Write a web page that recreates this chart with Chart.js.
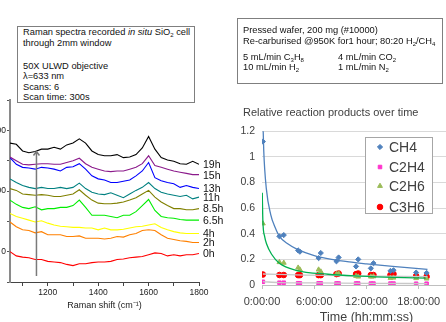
<!DOCTYPE html>
<html>
<head>
<meta charset="utf-8">
<script src="https://cdn.jsdelivr.net/npm/chart.js@4.4.1/dist/chart.umd.min.js"></script>
<style>
  html, body { margin: 0; padding: 0; width: 446px; height: 322px; overflow: hidden; background: #fff; }
  body { position: relative; font-family: "Liberation Sans", Arial, sans-serif; }
  #pageTitle { position: absolute; left: 0; top: -21px; width: 446px; text-align: center;
    font: bold 20px/20px "Liberation Sans", Arial, sans-serif; white-space: nowrap; color: #000; }
  .note { position: absolute; box-sizing: border-box; border: 1px solid #7f7f7f; background: #fff;
    font: 9.3px/10.5px "Liberation Sans", Arial, sans-serif; color: #111; padding-left: 5px; }
  .note p { margin: 0; white-space: nowrap; }
  .note sub { font-size: 6px; line-height: 0; vertical-align: -2px; }
  .note .col { display: inline-block; width: 95px; }
  #ramanNote { left: 17px; top: 26px; width: 178px; height: 77px; }
  #ramanNote .gap { margin-top: 12.5px; }
  #wNote { left: 237px; top: 18px; width: 206px; height: 66px; padding-top: 6px; }
  #wNote .gap { margin-top: 7px; }
  #wNote .tight { line-height: 9.5px; }
  #prodTitle { position: absolute; left: 243px; top: 106px; font: 11px "Liberation Sans", Arial, sans-serif;
    color: #404040; white-space: nowrap; }
  #raman { position: absolute; left: -30px; top: 90px; }
  #products { position: absolute; left: 230px; top: 118px; }
</style>
</head>
<body>
<div id="pageTitle">In-situ Raman study of carbon deposition</div>

<canvas id="raman" width="262" height="232"></canvas>
<canvas id="products" width="246" height="210"></canvas>

<div class="note" id="ramanNote">
  <p>Raman spectra recorded <i>in situ</i> SiO<sub>2</sub> cell</p>
  <p>through 2mm window</p>
  <p class="gap">50X ULWD objective</p>
  <p>λ=633 nm</p>
  <p>Scans: 6</p>
  <p>Scan time: 300s</p>
</div>

<div class="note" id="wNote">
  <p>Pressed wafer, 200 mg (#10000)</p>
  <p>Re-carburised @950K for1 hour; 80:20 H<sub>2</sub>/CH<sub>4</sub></p>
  <p class="gap tight"><span class="col">5 mL/min C<sub>3</sub>H<sub>8</sub></span>4 mL/min CO<sub>2</sub></p>
  <p class="tight"><span class="col">10 mL/min H<sub>2</sub></span>1 mL/min N<sub>2</sub></p>
</div>

<div id="prodTitle">Relative reaction products over time</div>

<script>
// ── Raman spectra (offset intensities) ─────────────
const ramanShift = [1050, 1075, 1100, 1125, 1150, 1175, 1200, 1225, 1250, 1275, 1300, 1325, 1350, 1375, 1400,
  1425, 1450, 1475, 1500, 1525, 1550, 1575, 1600, 1625, 1650, 1675, 1700, 1725, 1750, 1775, 1800];
const ramanTicks = [1100, 1200, 1300, 1400, 1500, 1600, 1700, 1800];

const spec19h = [179, 177, 166, 163, 165, 169, 169, 172, 169, 176, 179, 186, 179, 166, 160, 158, 158, 160, 155, 156,
  160, 171, 190, 169, 155, 151, 149, 145, 144, 149, 144];
const spec15h = [156, 150, 144, 143, 144, 145, 145, 144, 144, 147, 150, 154, 145, 139, 136, 133, 132, 133, 133, 136,
  139, 145, 158, 142, 139, 136, 133, 131, 129, 127, 127];
const spec13h = [155, 144, 139, 138, 136, 139, 138, 136, 133, 139, 140, 145, 136, 125, 120, 118, 114, 114, 116, 118,
  125, 133, 147, 122, 117, 114, 112, 106, 109, 106, 104];
const spec11h = [120, 114, 109, 106, 104, 106, 104, 104, 106, 104, 106, 113, 104, 98, 95, 94, 97, 93, 89, 95,
  101, 106, 114, 104, 98, 95, 93, 91, 93, 87, 90];
const spec8h5 = [104, 101, 95, 94, 93, 94, 93, 91, 91, 93, 95, 102, 93, 85, 80, 79, 79, 80, 82, 85,
  89, 95, 101, 90, 82, 76, 71, 71, 69, 69, 71];
const spec6h5 = [85, 78, 73, 71, 74, 69, 71, 71, 73, 73, 76, 85, 73, 60, 60, 60, 58, 56, 60, 60,
  66, 76, 86, 68, 58, 56, 55, 53, 52, 52, 52];
const spec4h = [63, 58, 55, 52, 49, 51, 47, 44, 42, 41, 40, 40, 39, 39, 36, 39, 36, 36, 37, 39,
  41, 42, 44, 46, 40, 36, 33, 31, 30, 30, 30];
const spec2h = [49, 41, 36, 35, 31, 33, 28, 28, 28, 25, 25, 26, 22, 22, 22, 21, 22, 25, 24, 28,
  30, 35, 36, 35, 28, 22, 20, 18, 17, 15, 15];
const spec0h = [0, -7, -9, -10, -13, -13, -16, -17, -18, -21, -23, -20, -20, -18, -17, -17, -16, -13, -12, -10,
  -9, -8, -5, -2, -3, -7, -5, -7, -5, -5, -3];

const spectrumLabels = ["19h", "15h", "13h", "11h", "8.5h", "6.5h", "4h", "2h", "0h"];
const spectrumColors = ["#000000", "#8b1a8b", "#0000ff", "#008080", "#808000", "#00ee00", "#ffff00", "#ff8000", "#ff0000"];
const spectra = [spec19h, spec15h, spec13h, spec11h, spec8h5, spec6h5, spec4h, spec2h, spec0h];

// arrow (time direction) in data units
const arrowShift = 1155;
const arrowFrom = -40;
const arrowTo = 165;

// ── Reaction products ───────────────────────────
const sampleHours = [0.1, 2.0, 2.5, 4.15, 4.35, 6.5, 6.75, 8.55, 8.8, 10.8, 11.05, 12.5, 12.8, 14.75, 15.1, 17.7, 18.9];
const ch4  = [1.12, 0.38, 0.39, 0.27, 0.26, 0.21, 0.25, 0.185, 0.215, 0.145, 0.2, 0.13, 0.17, 0.11, 0.115, 0.097, 0.094];
const c2h4 = [0.025, 0.018, 0.018, 0.014, 0.013, 0.013, 0.013, 0.012, 0.012, 0.012, 0.012, 0.011, 0.011, 0.011, 0.011, 0.01, 0.01];
const c2h6 = [0.48, 0.178, 0.173, 0.135, 0.12, 0.12, 0.105, 0.085, 0.09, 0.07, 0.065, 0.065, 0.067, 0.055, 0.057, 0.053, 0.05];
const c3h6 = [0.082, 0.078, 0.078, 0.077, 0.077, 0.077, 0.077, 0.085, 0.09, 0.085, 0.09, 0.078, 0.078, 0.078, 0.085, 0.07, 0.065];

// trend curves
const ch4TrendT  = [0.1, 0.2, 0.5, 1, 1.5, 2, 3, 4, 6, 8, 10, 12, 15, 19];
const ch4TrendV  = [1.3, 1.05, 0.75, 0.55, 0.45, 0.38, 0.32, 0.28, 0.23, 0.2, 0.18, 0.165, 0.145, 0.122];
const c2h6TrendT = [0.03, 0.1, 0.3, 0.53, 1.1, 2, 3.9, 7.6, 11.3, 15.1, 18.8];
const c2h6TrendV = [0.72, 0.5, 0.38, 0.32, 0.24, 0.17, 0.115, 0.084, 0.069, 0.059, 0.053];
const c3h6TrendT = [0.1, 5, 10, 19];
const c3h6TrendV = [0.086, 0.077, 0.072, 0.066];
const c2h4TrendT = [0.1, 2, 6, 12, 19];
const c2h4TrendV = [0.026, 0.019, 0.016, 0.013, 0.011];

const timeTicks = [0, 6, 12, 18];
const productNames = ["CH4", "C2H4", "C2H6", "C3H6"];
const productColors = ["#4f81bd", "#ff33cc", "#9bbb59", "#ff0000"];
const productStyles = ["rectRot", "rect", "triangle", "circle"];
const productSizes = [2.6, 2.5, 2.8, 2.8];

const NARROW = "'Liberation Sans Narrow', 'Liberation Sans', Arial, sans-serif";
const SANS = "'Liberation Sans', Arial, sans-serif";

// ── plugins ──────────────────────────────────────
const spectrumLabelPlugin = {
  id: "spectrumLabels",
  afterDatasetsDraw(chart) {
    const { ctx, chartArea } = chart;
    ctx.save();
    ctx.font = "10.5px " + SANS;
    ctx.fillStyle = "#111";
    ctx.textBaseline = "middle";
    chart.data.datasets.forEach((ds, i) => {
      const pts = chart.getDatasetMeta(i).data;
      const last = pts[pts.length - 1];
      ctx.fillText(ds.label, chartArea.right + 4, last.y + 1);
    });
    ctx.restore();
  },
};

const arrowPlugin = {
  id: "timeArrow",
  afterDatasetsDraw(chart) {
    const { ctx, scales } = chart;
    const x = scales.x.getPixelForValue(arrowShift);
    const y0 = scales.y.getPixelForValue(arrowFrom);
    const y1 = scales.y.getPixelForValue(arrowTo);
    ctx.save();
    ctx.strokeStyle = "#7a7a7a";
    ctx.lineWidth = 1.5;
    ctx.beginPath();
    ctx.moveTo(x, y0);
    ctx.lineTo(x, y1);
    ctx.moveTo(x - 3, y1 + 4);
    ctx.lineTo(x, y1);
    ctx.lineTo(x + 3, y1 + 4);
    ctx.stroke();
    ctx.restore();
  },
};

const productLegendPlugin = {
  id: "productLegend",
  afterDraw(chart) {
    const ctx = chart.ctx;
    const box = { x: 135, y: 19, w: 67, h: 76 };
    const rows = [10, 30, 49, 70];
    ctx.save();
    ctx.fillStyle = "#fff";
    ctx.fillRect(box.x, box.y, box.w, box.h);
    ctx.strokeStyle = "#a6a6a6";
    ctx.lineWidth = 1;
    ctx.strokeRect(box.x + 0.5, box.y + 0.5, box.w, box.h);
    ctx.font = "14px " + SANS;
    ctx.textBaseline = "middle";
    productNames.forEach((name, i) => {
      ctx.fillStyle = productColors[i];
      ctx.strokeStyle = productColors[i];
      Chart.helpers.drawPoint(ctx, { pointStyle: productStyles[i], radius: productSizes[i], borderWidth: 1 },
        150, box.y + rows[i]);
      ctx.fillStyle = "#404040";
      ctx.fillText(name, 159, box.y + rows[i] + 1);
    });
    ctx.restore();
  },
};

// ── Raman chart ──────────────────────────────────
new Chart(document.getElementById("raman"), {
  type: "line",
  data: {
    datasets: spectra.map((s, i) => ({
      label: spectrumLabels[i],
      data: ramanShift.map((x, j) => ({ x, y: s[j] })),
      borderColor: spectrumColors[i],
      borderWidth: 1.1,
      pointRadius: 0,
      tension: 0,
      fill: false,
    })),
  },
  options: {
    responsive: false,
    animation: false,
    devicePixelRatio: 1,
    layout: { padding: { top: 10, right: 33, left: 0, bottom: 0 } },
    plugins: { legend: { display: false }, tooltip: { enabled: false } },
    scales: {
      x: {
        type: "linear",
        min: 1050,
        max: 1800,
        afterBuildTicks: (s) => { s.ticks = ramanTicks.map((v) => ({ value: v })); },
        afterFit: (s) => { s.height = 40; },
        ticks: {
          autoSkip: false, maxRotation: 0, padding: 2, color: "#222",
          font: { family: NARROW, size: 8.5 },
          callback: (v) => (v % 200 === 0 ? String(v) : ""),
        },
        grid: { drawOnChartArea: false, tickLength: 4, color: "#444" },
        border: { color: "#444", width: 1 },
        title: {
          display: true, text: "Raman shift (cm⁻¹)", color: "#222",
          font: { family: NARROW, size: 9 }, padding: { top: 0, bottom: 11 },
        },
      },
      y: {
        min: -50,
        max: 250,
        afterFit: (s) => { s.width = 40; },
        ticks: {
          stepSize: 50, padding: 1, color: "#222",
          font: { family: NARROW, size: 8.5 },
          callback: (v) => (v % 100 === 0 ? String(v) : ""),
        },
        grid: { drawOnChartArea: false, tickLength: 3, color: "#555" },
        border: { color: "#8a8a8a", width: 2 },
      },
    },
  },
  plugins: [spectrumLabelPlugin, arrowPlugin],
});

// ── Products chart ───────────────────────────────
const pointSets = [ch4, c2h4, c2h6, c3h6].map((vals, i) => ({
  label: productNames[i],
  data: sampleHours.map((t, j) => ({ x: t, y: vals[j] })),
  pointStyle: productStyles[i],
  pointRadius: productSizes[i],
  backgroundColor: productColors[i],
  borderColor: productColors[i],
  borderWidth: 1,
  showLine: false,
}));

const trendSets = [
  { t: ch4TrendT, v: ch4TrendV, c: "#4f81bd" },
  { t: c2h6TrendT, v: c2h6TrendV, c: "#00b050" },
  { t: c3h6TrendT, v: c3h6TrendV, c: "#c8c8c8" },
  { t: c2h4TrendT, v: c2h4TrendV, c: "#c8c8c8" },
].map((tr) => ({
  data: tr.t.map((t, j) => ({ x: t, y: tr.v[j] })),
  showLine: true,
  borderColor: tr.c,
  borderWidth: 1.3,
  pointRadius: 0,
  cubicInterpolationMode: "monotone",
}));

new Chart(document.getElementById("products"), {
  type: "scatter",
  data: { datasets: [...trendSets, ...pointSets] },
  options: {
    responsive: false,
    animation: false,
    devicePixelRatio: 1,
    layout: { padding: { top: 10, right: 0, left: 0, bottom: 0 } },
    plugins: { legend: { display: false }, tooltip: { enabled: false } },
    scales: {
      x: {
        type: "linear",
        min: 0,
        max: 24,
        afterBuildTicks: (s) => { s.ticks = timeTicks.map((v) => ({ value: v })); },
        afterFit: (s) => { s.height = 43; },
        ticks: {
          autoSkip: false, maxRotation: 0, padding: 6, color: "#404040",
          font: { family: SANS, size: 11 },
          callback: (v) => v + ":00:00",
        },
        grid: { drawOnChartArea: false, tickLength: 4, color: "#bfbfbf" },
        border: { color: "#bfbfbf", width: 1 },
        title: {
          display: true, text: "Time (hh:mm:ss)", color: "#404040",
          font: { family: SANS, size: 12.5 }, padding: { top: 0, bottom: 3 },
        },
      },
      y: {
        min: 0,
        max: 1.2,
        afterFit: (s) => { s.width = 32; },
        ticks: {
          stepSize: 0.2, padding: 7, color: "#404040",
          font: { family: SANS, size: 10.5 },
          callback: (v) => String(Math.round(v * 10) / 10),
        },
        grid: { drawTicks: false, color: "#d9d9d9" },
        border: { display: false },
      },
    },
  },
  plugins: [productLegendPlugin],
});
</script>
</body>
</html>
